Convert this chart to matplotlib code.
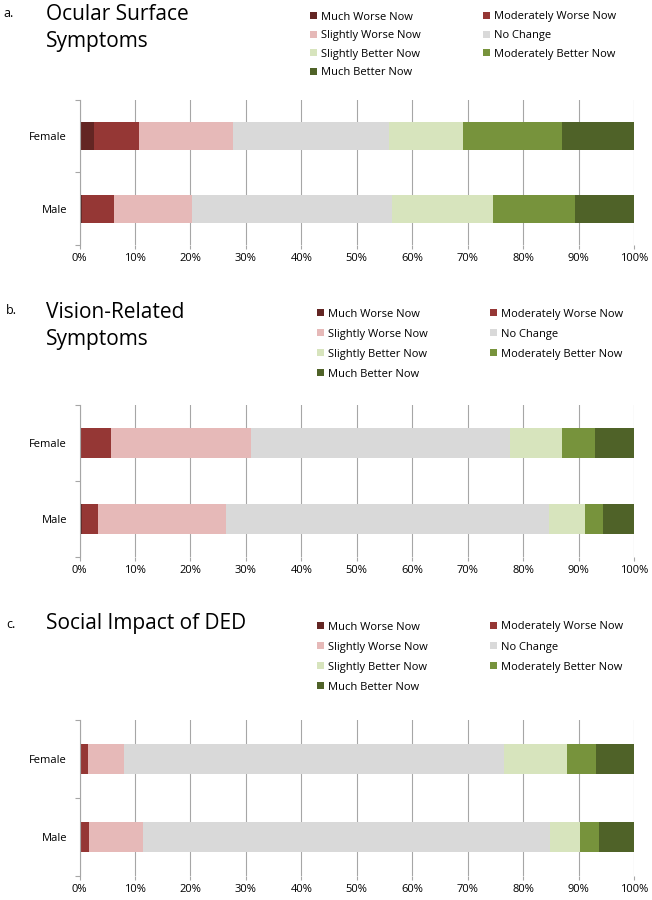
import matplotlib
matplotlib.use("Agg")
import matplotlib.pyplot as plt
from matplotlib.patches import Patch
import numpy as np

plt.rcParams['font.family'] = ['Open Sans', 'DejaVu Sans']

# response categories and their colours (Excel-like palette)
responses = ['Much Worse Now', 'Moderately Worse Now', 'Slightly Worse Now', 'No Change',
             'Slightly Better Now', 'Moderately Better Now', 'Much Better Now']
colors = ['#632523', '#953735', '#E6B9B8', '#D9D9D9', '#D7E4BD', '#77933C', '#4F6228']

groups = ['Female', 'Male']

# percentages
ocular_female = [2.7, 8.0, 17.0, 28.1, 13.3, 18.0, 12.9]
ocular_male = [0.4, 5.8, 14.1, 36.0, 18.3, 14.8, 10.6]
vision_female = [0.0, 5.6, 25.4, 46.6, 9.4, 5.9, 7.1]
vision_male = [0.4, 2.9, 23.2, 58.1, 6.6, 3.2, 5.6]
social_female = [0.0, 1.5, 6.6, 68.5, 11.4, 5.1, 6.9]
social_male = [0.0, 1.8, 9.6, 73.5, 5.4, 3.3, 6.4]

xticks = list(range(0, 101, 10))

W, H = 652, 900
fig = plt.figure(figsize=(W / 100, H / 100), dpi=100)

# panel layout in pixels: letter, title, axes top/bottom, letter x, letter y, title y,
# legend x/y, legend row spacing
panels = [
    ('a.', 'Ocular Surface\nSymptoms', ocular_female, ocular_male, 100, 245, 3, 7, 4, 310, 11.5, 0.68),
    ('b.', 'Vision-Related\nSymptoms', vision_female, vision_male, 405, 557, 6, 304, 302, 317, 308.5, 0.82),
    ('c.', 'Social Impact of DED', social_female, social_male, 720, 876, 6, 618, 613, 317, 621.5, 0.82),
]

grid_col = '#A6A6A6'
left_px, right_px = 79.5, 634

for letter, title, fem, mal, top, bot, lx, ly, ty, legx, legy, lsp in panels:
    ax = fig.add_axes([left_px / W, 1 - bot / H, (right_px - left_px) / W, (bot - top) / H])
    data = np.array([fem, mal])
    y = np.arange(len(groups))
    left = np.zeros(len(groups))
    for i, resp in enumerate(responses):
        ax.barh(y, data[:, i], left=left, height=0.39, color=colors[i], label=resp, linewidth=0)
        left += data[:, i]

    ax.set_xlim(0, 100)
    ax.set_ylim(1.5, -0.5)
    ax.set_xticks(xticks)
    ax.set_xticklabels(['{}%'.format(v) for v in xticks], fontsize=8)
    ax.set_yticks(y)
    ax.set_yticklabels(groups, fontsize=8)
    ax.set_yticks([-0.5, 0.5, 1.5], minor=True)
    ax.tick_params(axis='y', which='major', length=0, pad=9)
    ax.tick_params(axis='y', which='minor', length=3.5, color=grid_col, width=0.8)
    ax.tick_params(axis='x', length=3, color=grid_col, width=0.8, pad=3)
    ax.xaxis.grid(True, color=grid_col, linewidth=0.8)
    ax.set_axisbelow(True)
    for s in ['top', 'right', 'bottom']:
        ax.spines[s].set_visible(False)
    ax.spines['left'].set_color(grid_col)
    ax.spines['left'].set_linewidth(0.8)

    fig.text(lx / W, 1 - ly / H, letter, fontsize=9, va='top', ha='left')
    fig.text(46 / W, 1 - ty / H, title, fontsize=15, va='top', ha='left', linespacing=1.35)

    # row-wise legend order with 2 columns
    handles = [Patch(facecolor=c, edgecolor='none') for c in colors]
    order = [0, 2, 4, 6, 1, 3, 5]
    fig.legend([handles[k] for k in order], [responses[k] for k in order],
               loc='upper left', bbox_to_anchor=(legx / W, 1 - legy / H), ncol=2,
               frameon=False, fontsize=8, borderpad=0, borderaxespad=0,
               handlelength=0.6, handleheight=0.6, handletextpad=0.4,
               labelspacing=lsp, columnspacing=5.6)

fig.savefig('out.png', dpi=100)
